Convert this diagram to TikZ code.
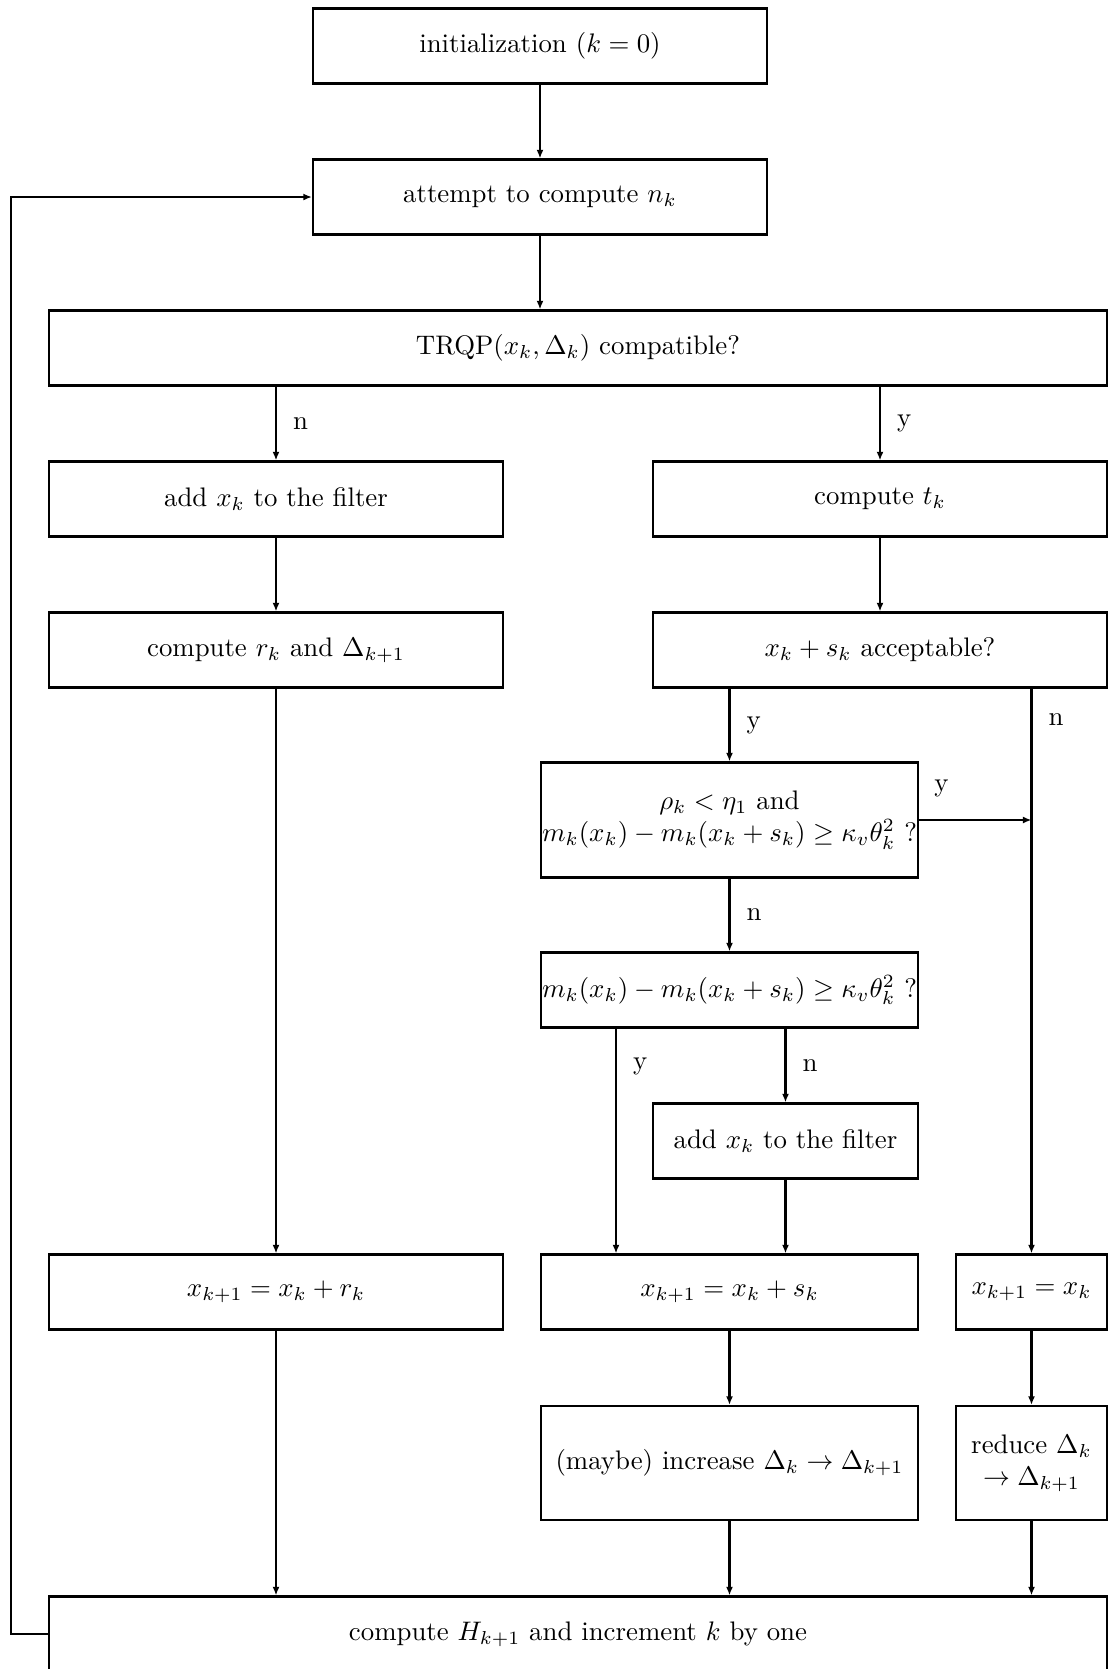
\documentclass[tikz,border=0pt]{standalone}
\usetikzlibrary{arrows.meta}
\newcommand{\pu}{0.0131cm}
\begin{document}
\begin{tikzpicture}[x=0.0131cm, y=-0.0131cm, line width=0.8pt,
  box/.style={draw, rectangle, inner sep=0pt, align=center, minimum height=75*\pu},
  wide/.style={box, minimum width=454*\pu},
  mid/.style={box, minimum width=377*\pu},
  arr/.style={-{Latex[length=3.2pt,width=2.6pt]}},
  lab/.style={right, inner sep=6pt}]
\useasboundingbox (0,0) rectangle (1109,1669);
\node[wide] (init) at (540,46){initialization ($k=0$)};
\node[wide] (attempt) at (540,197){attempt to compute $n_k$};
\node[box, minimum width=1058*\pu] (trqp) at (578,348){TRQP$(x_k,\Delta_k)$ compatible?};
\node[wide] (filter1) at (276,499){add $x_k$ to the filter};
\node[wide] (tk) at (880,499){compute $t_k$};
\node[wide] (rk) at (276,650){compute $r_k$ and $\Delta_{k+1}$};
\node[wide] (accept) at (880,650){$x_k+s_k$ acceptable?};
\node[mid, minimum height=115*\pu] (rho) at (729.5,820){$\rho_k<\eta_1$ and\\$m_k(x_k)-m_k(x_k+s_k)\geq\kappa_v\theta_k^2$ ?};
\node[mid] (mk) at (729.5,990){$m_k(x_k)-m_k(x_k+s_k)\geq\kappa_v\theta_k^2$ ?};
\node[box, minimum width=265*\pu] (filter2) at (785.5,1141){add $x_k$ to the filter};
\node[wide] (xr) at (276,1292){$x_{k+1}=x_k+r_k$};
\node[mid] (xs) at (729.5,1292){$x_{k+1}=x_k+s_k$};
\node[box, minimum width=151*\pu] (xx) at (1031.5,1292){$x_{k+1}=x_k$};
\node[mid, minimum height=114*\pu] (incr) at (729.5,1463){(maybe) increase $\Delta_k\to\Delta_{k+1}$};
\node[box, minimum width=151*\pu, minimum height=114*\pu] (reduce) at (1031.5,1463){reduce $\Delta_k$\\$\to\Delta_{k+1}$};
\node[box, minimum width=1058*\pu] (final) at (578,1634){compute $H_{k+1}$ and increment $k$ by one};
\coordinate (ybr) at (616,0);
\draw[arr](init) -- (attempt);
\draw[arr](attempt.south) -- (attempt.south |- trqp.north);
\draw[arr](filter1.north |- trqp.south) -- node[lab]{n} (filter1.north);
\draw[arr](tk.north |- trqp.south) -- node[lab]{y} (tk.north);
\draw[arr](filter1) -- (rk);
\draw[arr](tk) -- (accept);
\draw[arr](rk) -- (xr);
\draw[arr](rho.north |- accept.south) -- node[lab]{y} (rho.north);
\draw[arr](xx.north |- accept.south) -- node[lab, pos=0.055]{n} (xx.north);
\draw[arr](rho.east) -- node[above, pos=0.2, inner sep=8pt]{y} (rho.east -| xx.north);
\draw[arr](rho) -- node[lab]{n} (mk);
\draw[arr](ybr |- mk.south) -- node[lab, pos=0.17]{y} (ybr |- xs.north);
\draw[arr](filter2.north |- mk.south) -- node[lab]{n} (filter2.north);
\draw[arr](filter2.south) -- (filter2.south |- xs.north);
\draw[arr](xr) -- (xr.south |- final.north);
\draw[arr](xs) -- (incr);
\draw[arr](incr) -- (incr.south |- final.north);
\draw[arr](xx) -- (reduce);
\draw[arr](reduce) -- (reduce.south |- final.north);
\draw[arr](final.west) -- ++(-37,0) |- (attempt.west);
\end{tikzpicture}
\end{document}
